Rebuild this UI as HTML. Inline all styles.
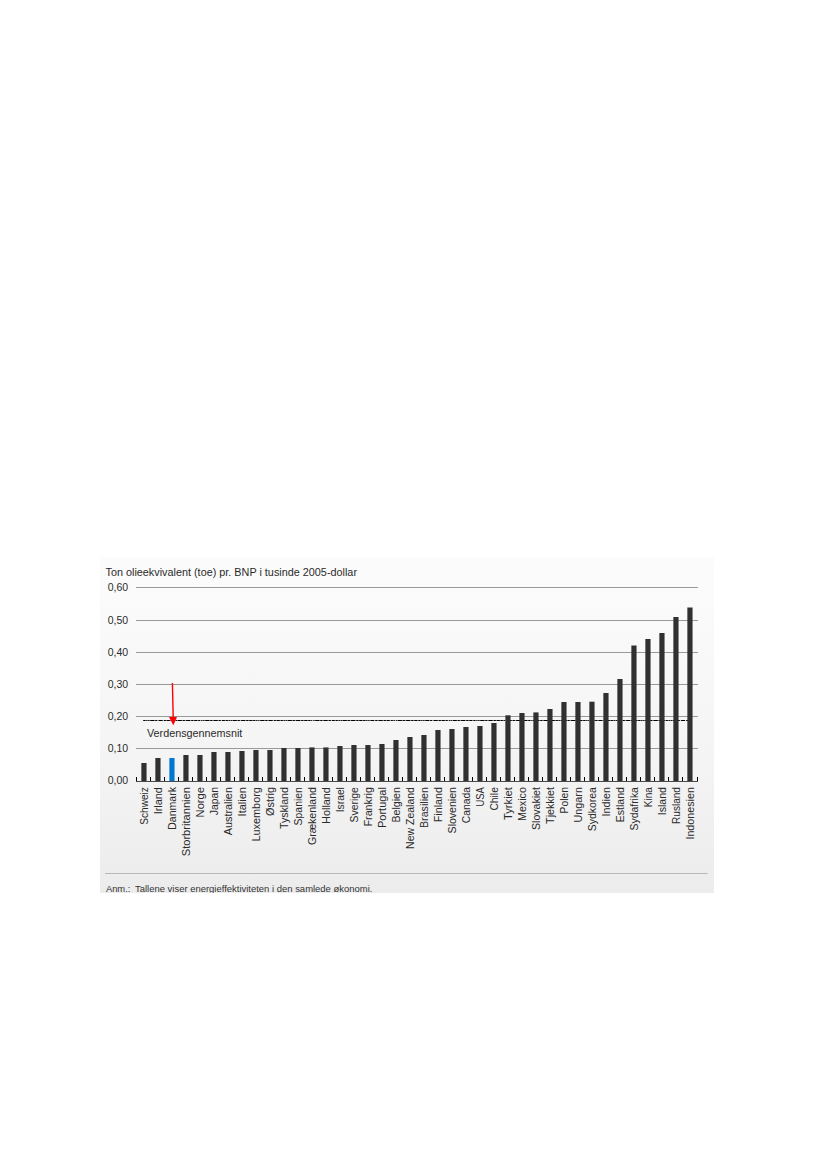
<!DOCTYPE html>
<html><head><meta charset="utf-8"><style>
html,body{margin:0;padding:0;background:#fff;}
body{width:827px;height:1169px;overflow:hidden;position:relative;}
svg{position:absolute;left:0;top:0;}
text{font-family:"Liberation Sans", sans-serif;}
</style></head><body>
<svg width="827" height="1169" viewBox="0 0 827 1169">
<defs><linearGradient id="bg" x1="0" y1="0" x2="0" y2="1">
<stop offset="0" stop-color="#fcfcfc"/><stop offset="0.55" stop-color="#f5f5f5"/><stop offset="1" stop-color="#ececec"/></linearGradient></defs>
<rect x="100" y="557" width="614" height="336" fill="url(#bg)"/>
<text x="105.5" y="575.9" font-size="10" fill="#2a2a2a" textLength="251.5" lengthAdjust="spacingAndGlyphs">Ton olieekvivalent (toe) pr. BNP i tusinde 2005-dollar</text>

<line x1="136" y1="587.5" x2="698" y2="587.5" stroke="#999999" stroke-width="1"/>
<text x="128.2" y="590.76" font-size="10" fill="#2a2a2a" text-anchor="end" textLength="20.4" lengthAdjust="spacingAndGlyphs">0,60</text>
<line x1="136" y1="620.5" x2="698" y2="620.5" stroke="#999999" stroke-width="1"/>
<text x="128.2" y="623.76" font-size="10" fill="#2a2a2a" text-anchor="end" textLength="20.4" lengthAdjust="spacingAndGlyphs">0,50</text>
<line x1="136" y1="652.5" x2="698" y2="652.5" stroke="#999999" stroke-width="1"/>
<text x="128.2" y="655.76" font-size="10" fill="#2a2a2a" text-anchor="end" textLength="20.4" lengthAdjust="spacingAndGlyphs">0,40</text>
<line x1="136" y1="684.5" x2="698" y2="684.5" stroke="#999999" stroke-width="1"/>
<text x="128.2" y="687.76" font-size="10" fill="#2a2a2a" text-anchor="end" textLength="20.4" lengthAdjust="spacingAndGlyphs">0,30</text>
<line x1="136" y1="716.5" x2="698" y2="716.5" stroke="#999999" stroke-width="1"/>
<text x="128.2" y="719.76" font-size="10" fill="#2a2a2a" text-anchor="end" textLength="20.4" lengthAdjust="spacingAndGlyphs">0,20</text>
<line x1="136" y1="748.5" x2="698" y2="748.5" stroke="#999999" stroke-width="1"/>
<text x="128.2" y="751.76" font-size="10" fill="#2a2a2a" text-anchor="end" textLength="20.4" lengthAdjust="spacingAndGlyphs">0,10</text>
<text x="128.2" y="784.06" font-size="10" fill="#2a2a2a" text-anchor="end" textLength="20.4" lengthAdjust="spacingAndGlyphs">0,00</text>
<line x1="143.3" y1="720.5" x2="690.5" y2="720.5" stroke="#8a8a8a" stroke-width="1" stroke-dasharray="14 1.3 4 1.2 19 1.2 2 1 9 1.3 3 1"/>
<line x1="143.3" y1="720.5" x2="690.5" y2="720.5" stroke="#000" stroke-width="1" stroke-dasharray="2 1 1 1 1 1 4 1 2 1.3 4 1.2 2 1 3 1"/>
<rect x="141.35" y="763" width="5.2" height="18.00" fill="#303030"/>
<rect x="155.35" y="758" width="5.2" height="23.00" fill="#303030"/>
<rect x="169.35" y="758" width="5.2" height="23.00" fill="#0077d0"/>
<rect x="183.35" y="755" width="5.2" height="26.00" fill="#303030"/>
<rect x="197.35" y="755" width="5.2" height="26.00" fill="#303030"/>
<rect x="211.35" y="752" width="5.2" height="29.00" fill="#303030"/>
<rect x="225.35" y="752" width="5.2" height="29.00" fill="#303030"/>
<rect x="239.35" y="751" width="5.2" height="30.00" fill="#303030"/>
<rect x="253.35" y="750" width="5.2" height="31.00" fill="#303030"/>
<rect x="267.35" y="750" width="5.2" height="31.00" fill="#303030"/>
<rect x="281.35" y="748" width="5.2" height="33.00" fill="#303030"/>
<rect x="295.35" y="748" width="5.2" height="33.00" fill="#303030"/>
<rect x="309.35" y="747.4" width="5.2" height="33.60" fill="#303030"/>
<rect x="323.35" y="747.4" width="5.2" height="33.60" fill="#303030"/>
<rect x="337.35" y="746" width="5.2" height="35.00" fill="#303030"/>
<rect x="351.35" y="745" width="5.2" height="36.00" fill="#303030"/>
<rect x="365.35" y="745" width="5.2" height="36.00" fill="#303030"/>
<rect x="379.35" y="744" width="5.2" height="37.00" fill="#303030"/>
<rect x="393.35" y="740" width="5.2" height="41.00" fill="#303030"/>
<rect x="407.35" y="737" width="5.2" height="44.00" fill="#303030"/>
<rect x="421.35" y="735" width="5.2" height="46.00" fill="#303030"/>
<rect x="435.35" y="730" width="5.2" height="51.00" fill="#303030"/>
<rect x="449.35" y="729" width="5.2" height="52.00" fill="#303030"/>
<rect x="463.35" y="727" width="5.2" height="54.00" fill="#303030"/>
<rect x="477.35" y="726" width="5.2" height="55.00" fill="#303030"/>
<rect x="491.35" y="723" width="5.2" height="58.00" fill="#303030"/>
<rect x="505.35" y="715.3" width="5.2" height="65.70" fill="#303030"/>
<rect x="519.35" y="713" width="5.2" height="68.00" fill="#303030"/>
<rect x="533.35" y="712.4" width="5.2" height="68.60" fill="#303030"/>
<rect x="547.35" y="709" width="5.2" height="72.00" fill="#303030"/>
<rect x="561.35" y="702" width="5.2" height="79.00" fill="#303030"/>
<rect x="575.35" y="702" width="5.2" height="79.00" fill="#303030"/>
<rect x="589.35" y="701.7" width="5.2" height="79.30" fill="#303030"/>
<rect x="603.35" y="693" width="5.2" height="88.00" fill="#303030"/>
<rect x="617.35" y="679" width="5.2" height="102.00" fill="#303030"/>
<rect x="631.35" y="645.5" width="5.2" height="135.50" fill="#303030"/>
<rect x="645.35" y="639" width="5.2" height="142.00" fill="#303030"/>
<rect x="659.35" y="633" width="5.2" height="148.00" fill="#303030"/>
<rect x="673.35" y="617" width="5.2" height="164.00" fill="#303030"/>
<rect x="687.35" y="607.5" width="5.2" height="173.50" fill="#303030"/>
<line x1="136" y1="781.5" x2="698" y2="781.5" stroke="#4a4a4a" stroke-width="1"/>
<line x1="136.5" y1="777" x2="136.5" y2="781" stroke="#000" stroke-width="1"/>
<line x1="150.5" y1="777" x2="150.5" y2="781" stroke="#000" stroke-width="1"/>
<line x1="164.5" y1="777" x2="164.5" y2="781" stroke="#000" stroke-width="1"/>
<line x1="178.5" y1="777" x2="178.5" y2="781" stroke="#000" stroke-width="1"/>
<line x1="192.5" y1="777" x2="192.5" y2="781" stroke="#000" stroke-width="1"/>
<line x1="206.5" y1="777" x2="206.5" y2="781" stroke="#000" stroke-width="1"/>
<line x1="220.5" y1="777" x2="220.5" y2="781" stroke="#000" stroke-width="1"/>
<line x1="234.5" y1="777" x2="234.5" y2="781" stroke="#000" stroke-width="1"/>
<line x1="248.5" y1="777" x2="248.5" y2="781" stroke="#000" stroke-width="1"/>
<line x1="262.5" y1="777" x2="262.5" y2="781" stroke="#000" stroke-width="1"/>
<line x1="276.5" y1="777" x2="276.5" y2="781" stroke="#000" stroke-width="1"/>
<line x1="290.5" y1="777" x2="290.5" y2="781" stroke="#000" stroke-width="1"/>
<line x1="304.5" y1="777" x2="304.5" y2="781" stroke="#000" stroke-width="1"/>
<line x1="318.5" y1="777" x2="318.5" y2="781" stroke="#000" stroke-width="1"/>
<line x1="332.5" y1="777" x2="332.5" y2="781" stroke="#000" stroke-width="1"/>
<line x1="346.5" y1="777" x2="346.5" y2="781" stroke="#000" stroke-width="1"/>
<line x1="360.5" y1="777" x2="360.5" y2="781" stroke="#000" stroke-width="1"/>
<line x1="374.5" y1="777" x2="374.5" y2="781" stroke="#000" stroke-width="1"/>
<line x1="388.5" y1="777" x2="388.5" y2="781" stroke="#000" stroke-width="1"/>
<line x1="402.5" y1="777" x2="402.5" y2="781" stroke="#000" stroke-width="1"/>
<line x1="416.5" y1="777" x2="416.5" y2="781" stroke="#000" stroke-width="1"/>
<line x1="430.5" y1="777" x2="430.5" y2="781" stroke="#000" stroke-width="1"/>
<line x1="444.5" y1="777" x2="444.5" y2="781" stroke="#000" stroke-width="1"/>
<line x1="458.5" y1="777" x2="458.5" y2="781" stroke="#000" stroke-width="1"/>
<line x1="472.5" y1="777" x2="472.5" y2="781" stroke="#000" stroke-width="1"/>
<line x1="486.5" y1="777" x2="486.5" y2="781" stroke="#000" stroke-width="1"/>
<line x1="500.5" y1="777" x2="500.5" y2="781" stroke="#000" stroke-width="1"/>
<line x1="514.5" y1="777" x2="514.5" y2="781" stroke="#000" stroke-width="1"/>
<line x1="528.5" y1="777" x2="528.5" y2="781" stroke="#000" stroke-width="1"/>
<line x1="542.5" y1="777" x2="542.5" y2="781" stroke="#000" stroke-width="1"/>
<line x1="556.5" y1="777" x2="556.5" y2="781" stroke="#000" stroke-width="1"/>
<line x1="570.5" y1="777" x2="570.5" y2="781" stroke="#000" stroke-width="1"/>
<line x1="584.5" y1="777" x2="584.5" y2="781" stroke="#000" stroke-width="1"/>
<line x1="598.5" y1="777" x2="598.5" y2="781" stroke="#000" stroke-width="1"/>
<line x1="612.5" y1="777" x2="612.5" y2="781" stroke="#000" stroke-width="1"/>
<line x1="626.5" y1="777" x2="626.5" y2="781" stroke="#000" stroke-width="1"/>
<line x1="640.5" y1="777" x2="640.5" y2="781" stroke="#000" stroke-width="1"/>
<line x1="654.5" y1="777" x2="654.5" y2="781" stroke="#000" stroke-width="1"/>
<line x1="668.5" y1="777" x2="668.5" y2="781" stroke="#000" stroke-width="1"/>
<line x1="682.5" y1="777" x2="682.5" y2="781" stroke="#000" stroke-width="1"/>
<line x1="697.5" y1="777" x2="697.5" y2="781" stroke="#000" stroke-width="1"/>
<text transform="translate(147.75,787.1) rotate(-90)" font-size="10.6" fill="#2a2a2a" text-anchor="end" textLength="37.6" lengthAdjust="spacingAndGlyphs">Schweiz</text>
<text transform="translate(161.75,787.1) rotate(-90)" font-size="10.6" fill="#2a2a2a" text-anchor="end" textLength="27.2" lengthAdjust="spacingAndGlyphs">Irland</text>
<text transform="translate(175.75,787.1) rotate(-90)" font-size="10.6" fill="#2a2a2a" text-anchor="end" textLength="42.7" lengthAdjust="spacingAndGlyphs">Danmark</text>
<text transform="translate(189.75,787.1) rotate(-90)" font-size="10.6" fill="#2a2a2a" text-anchor="end" textLength="69.2" lengthAdjust="spacingAndGlyphs">Storbritannien</text>
<text transform="translate(203.75,787.1) rotate(-90)" font-size="10.6" fill="#2a2a2a" text-anchor="end" textLength="30.3" lengthAdjust="spacingAndGlyphs">Norge</text>
<text transform="translate(217.75,787.1) rotate(-90)" font-size="10.6" fill="#2a2a2a" text-anchor="end" textLength="28.1" lengthAdjust="spacingAndGlyphs">Japan</text>
<text transform="translate(231.75,787.1) rotate(-90)" font-size="10.6" fill="#2a2a2a" text-anchor="end" textLength="48.1" lengthAdjust="spacingAndGlyphs">Australien</text>
<text transform="translate(245.75,787.1) rotate(-90)" font-size="10.6" fill="#2a2a2a" text-anchor="end" textLength="29.3" lengthAdjust="spacingAndGlyphs">Italien</text>
<text transform="translate(259.75,787.1) rotate(-90)" font-size="10.6" fill="#2a2a2a" text-anchor="end" textLength="54.5" lengthAdjust="spacingAndGlyphs">Luxemborg</text>
<text transform="translate(273.75,787.1) rotate(-90)" font-size="10.6" fill="#2a2a2a" text-anchor="end" textLength="28.8" lengthAdjust="spacingAndGlyphs">Østrig</text>
<text transform="translate(287.75,787.1) rotate(-90)" font-size="10.6" fill="#2a2a2a" text-anchor="end" textLength="41.9" lengthAdjust="spacingAndGlyphs">Tyskland</text>
<text transform="translate(301.75,787.1) rotate(-90)" font-size="10.6" fill="#2a2a2a" text-anchor="end" textLength="38.3" lengthAdjust="spacingAndGlyphs">Spanien</text>
<text transform="translate(315.75,787.1) rotate(-90)" font-size="10.6" fill="#2a2a2a" text-anchor="end" textLength="57.9" lengthAdjust="spacingAndGlyphs">Grækenland</text>
<text transform="translate(329.75,787.1) rotate(-90)" font-size="10.6" fill="#2a2a2a" text-anchor="end" textLength="36.8" lengthAdjust="spacingAndGlyphs">Holland</text>
<text transform="translate(343.75,787.1) rotate(-90)" font-size="10.6" fill="#2a2a2a" text-anchor="end" textLength="25.2" lengthAdjust="spacingAndGlyphs">Israel</text>
<text transform="translate(357.75,787.1) rotate(-90)" font-size="10.6" fill="#2a2a2a" text-anchor="end" textLength="35.4" lengthAdjust="spacingAndGlyphs">Sverige</text>
<text transform="translate(371.75,787.1) rotate(-90)" font-size="10.6" fill="#2a2a2a" text-anchor="end" textLength="39.4" lengthAdjust="spacingAndGlyphs">Frankrig</text>
<text transform="translate(385.75,787.1) rotate(-90)" font-size="10.6" fill="#2a2a2a" text-anchor="end" textLength="40.9" lengthAdjust="spacingAndGlyphs">Portugal</text>
<text transform="translate(399.75,787.1) rotate(-90)" font-size="10.6" fill="#2a2a2a" text-anchor="end" textLength="35.4" lengthAdjust="spacingAndGlyphs">Belgien</text>
<text transform="translate(413.75,787.1) rotate(-90)" font-size="10.6" fill="#2a2a2a" text-anchor="end" textLength="61.8" lengthAdjust="spacingAndGlyphs">New Zealand</text>
<text transform="translate(427.75,787.1) rotate(-90)" font-size="10.6" fill="#2a2a2a" text-anchor="end" textLength="40.9" lengthAdjust="spacingAndGlyphs">Brasilien</text>
<text transform="translate(441.75,787.1) rotate(-90)" font-size="10.6" fill="#2a2a2a" text-anchor="end" textLength="35.1" lengthAdjust="spacingAndGlyphs">Finland</text>
<text transform="translate(455.75,787.1) rotate(-90)" font-size="10.6" fill="#2a2a2a" text-anchor="end" textLength="46.3" lengthAdjust="spacingAndGlyphs">Slovenien</text>
<text transform="translate(469.75,787.1) rotate(-90)" font-size="10.6" fill="#2a2a2a" text-anchor="end" textLength="36.1" lengthAdjust="spacingAndGlyphs">Canada</text>
<text transform="translate(483.75,787.1) rotate(-90)" font-size="10.6" fill="#2a2a2a" text-anchor="end" textLength="19.4" lengthAdjust="spacingAndGlyphs">USA</text>
<text transform="translate(497.75,787.1) rotate(-90)" font-size="10.6" fill="#2a2a2a" text-anchor="end" textLength="23.5" lengthAdjust="spacingAndGlyphs">Chile</text>
<text transform="translate(511.75,787.1) rotate(-90)" font-size="10.6" fill="#2a2a2a" text-anchor="end" textLength="32.8" lengthAdjust="spacingAndGlyphs">Tyrkiet</text>
<text transform="translate(525.75,787.1) rotate(-90)" font-size="10.6" fill="#2a2a2a" text-anchor="end" textLength="33.9" lengthAdjust="spacingAndGlyphs">Mexico</text>
<text transform="translate(539.75,787.1) rotate(-90)" font-size="10.6" fill="#2a2a2a" text-anchor="end" textLength="42.9" lengthAdjust="spacingAndGlyphs">Slovakiet</text>
<text transform="translate(553.75,787.1) rotate(-90)" font-size="10.6" fill="#2a2a2a" text-anchor="end" textLength="36.8" lengthAdjust="spacingAndGlyphs">Tjekkiet</text>
<text transform="translate(567.75,787.1) rotate(-90)" font-size="10.6" fill="#2a2a2a" text-anchor="end" textLength="26.4" lengthAdjust="spacingAndGlyphs">Polen</text>
<text transform="translate(581.75,787.1) rotate(-90)" font-size="10.6" fill="#2a2a2a" text-anchor="end" textLength="35.4" lengthAdjust="spacingAndGlyphs">Ungarn</text>
<text transform="translate(595.75,787.1) rotate(-90)" font-size="10.6" fill="#2a2a2a" text-anchor="end" textLength="44.1" lengthAdjust="spacingAndGlyphs">Sydkorea</text>
<text transform="translate(609.75,787.1) rotate(-90)" font-size="10.6" fill="#2a2a2a" text-anchor="end" textLength="29.3" lengthAdjust="spacingAndGlyphs">Indien</text>
<text transform="translate(623.75,787.1) rotate(-90)" font-size="10.6" fill="#2a2a2a" text-anchor="end" textLength="35.1" lengthAdjust="spacingAndGlyphs">Estland</text>
<text transform="translate(637.75,787.1) rotate(-90)" font-size="10.6" fill="#2a2a2a" text-anchor="end" textLength="43.4" lengthAdjust="spacingAndGlyphs">Sydafrika</text>
<text transform="translate(651.75,787.1) rotate(-90)" font-size="10.6" fill="#2a2a2a" text-anchor="end" textLength="20.1" lengthAdjust="spacingAndGlyphs">Kina</text>
<text transform="translate(665.75,787.1) rotate(-90)" font-size="10.6" fill="#2a2a2a" text-anchor="end" textLength="28.1" lengthAdjust="spacingAndGlyphs">Island</text>
<text transform="translate(679.75,787.1) rotate(-90)" font-size="10.6" fill="#2a2a2a" text-anchor="end" textLength="36.8" lengthAdjust="spacingAndGlyphs">Rusland</text>
<text transform="translate(693.75,787.1) rotate(-90)" font-size="10.6" fill="#2a2a2a" text-anchor="end" textLength="52.5" lengthAdjust="spacingAndGlyphs">Indonesien</text>
<line x1="172.4" y1="683" x2="173.2" y2="718" stroke="#ff0000" stroke-width="1.4"/>
<polygon points="169,716.9 177,716.9 173.3,725.2" fill="#ff0000"/>
<text x="147" y="736.7" font-size="10.2" fill="#2a2a2a" textLength="95.3" lengthAdjust="spacingAndGlyphs">Verdensgennemsnit</text>
<line x1="105" y1="873.5" x2="707.7" y2="873.5" stroke="#b8b8b8" stroke-width="1"/>
<svg x="100" y="557" width="614" height="336" overflow="hidden"><text x="5.9" y="334.8" font-size="9.4" fill="#333">Anm.:</text><text x="35" y="334.8" font-size="9.4" fill="#333" textLength="237.4" lengthAdjust="spacingAndGlyphs">Tallene viser energieffektiviteten i den samlede økonomi.</text></svg>
</svg></body></html>
